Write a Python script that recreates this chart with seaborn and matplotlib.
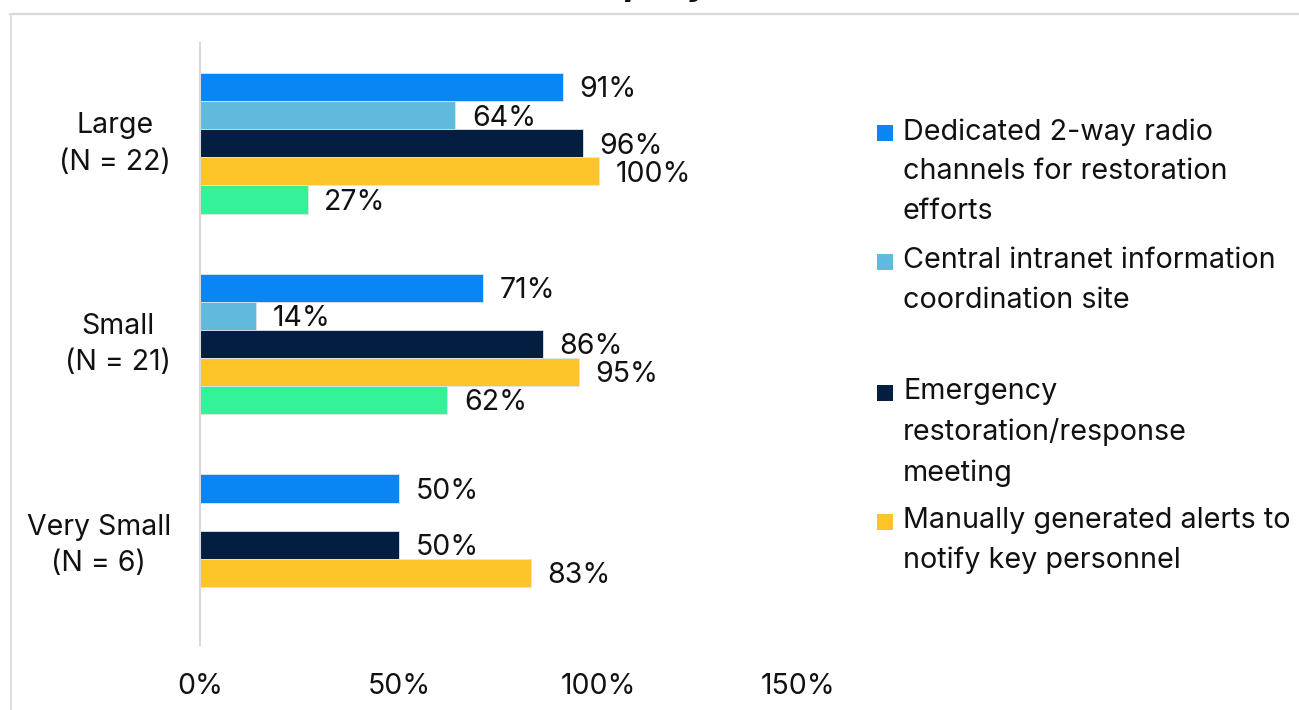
import numpy as np
import pandas as pd
import matplotlib
matplotlib.use("Agg")
import matplotlib.pyplot as plt
import matplotlib.transforms as mtrans
from matplotlib.patches import Rectangle
from matplotlib.lines import Line2D
import seaborn as sns

# ---- data -------------------------------------------------------------
groups = ["Large\n(N = 22)", "Small\n(N = 21)", "Very Small\n(N = 6)"]
methods = [
    "Dedicated 2-way radio\nchannels for restoration\nefforts",
    "Central intranet information\ncoordination site",
    "Emergency\nrestoration/response\nmeeting",
    "Manually generated alerts to\nnotify key personnel",
    "Other",
]
radio = [91, 71, 50]
intranet = [64, 14, np.nan]
meeting = [96, 86, 50]
alerts = [100, 95, 83]
other = [27, 62, np.nan]
x_ticks = [0, 50, 100, 150]
title_text = "Company Size"

colors = ["#0A86F4", "#5FBADC", "#041E42", "#FEC52B", "#33F298"]

series = [radio, intranet, meeting, alerts, other]
df = pd.DataFrame(
    [(g, m, v) for m, vals in zip(methods, series) for g, v in zip(groups, vals)],
    columns=["group", "method", "pct"],
)

# ---- figure -----------------------------------------------------------
sns.set_theme(style="white")
plt.rcParams["font.family"] = ["Inter", "DejaVu Sans"]

FS = 20.5
W, H = 1299, 710
fig = plt.figure(figsize=(W / 100, H / 100), dpi=100)
ax = fig.add_axes([200 / W, 65 / H, 598 / W, 602 / H])

sns.barplot(
    data=df, y="group", x="pct", hue="method",
    order=groups, hue_order=methods, palette=colors, saturation=1,
    orient="h", width=0.7, dodge=True, errorbar=None,
    edgecolor="#dbe6f2", linewidth=0.6, legend=False, ax=ax,
)

ax.set_xlim(0, 150)
ax.set_ylim(2.5, -0.5)
ax.set_xticks(x_ticks)
ax.set_xticklabels([f"{t}%" for t in x_ticks], fontsize=FS, color="#111111")
ax.set_xlabel("")
ax.set_ylabel("")
ax.tick_params(axis="x", length=0, pad=20)
ax.tick_params(axis="y", length=0, pad=21, labelsize=FS, labelcolor="#111111")
lift = mtrans.ScaledTranslation(0, 7 / 100, fig.dpi_scale_trans)
for lab in ax.get_yticklabels():
    lab.set_multialignment("center")
    lab.set_linespacing(1.45)
    lab.set_transform(lab.get_transform() + lift)

for s in ["top", "right", "bottom"]:
    ax.spines[s].set_visible(False)
ax.spines["left"].set_color("#d9d9d9")
ax.spines["left"].set_linewidth(1.5)
ax.grid(False)

# value labels to the right of each bar
for cont in ax.containers:
    for bar in cont:
        w = bar.get_width()
        if w is None or np.isnan(w) or w == 0:
            continue
        ax.annotate(f"{w:.0f}%", (w, bar.get_y() + bar.get_height() / 2),
                    xytext=(12, -2), textcoords="offset points",
                    ha="left", va="center", fontsize=FS, color="#111111")

# ---- legend (four entries, fixed slots) ------------------------------
slot_tops = [133, 262, 393, 522]
for txt, col, yc in zip(methods[:4], colors[:4], slot_tops):
    fig.patches.append(Rectangle((877 / W, 1 - (yc + 8) / H), 16 / W, 16 / H,
                                 transform=fig.transFigure, facecolor=col,
                                 edgecolor="none"))
    fig.text(903 / W, 1 - (yc - 15) / H, txt, ha="left", va="top",
             fontsize=20.7, color="#111111", linespacing=1.6)

# ---- frame and title strip ------------------------------------------
fig.lines.append(Line2D([10 / W, 1.0], [1 - 13.5 / H, 1 - 13.5 / H],
                        transform=fig.transFigure, color="#d9d9d9", lw=1.6))
fig.lines.append(Line2D([10.5 / W, 10.5 / W], [0, 1 - 13.5 / H],
                        transform=fig.transFigure, color="#d9d9d9", lw=1.2))
fig.text(670 / W, 1 + 4 / H, title_text, ha="center", va="baseline",
         fontsize=22, fontweight="bold", fontstyle="italic",
         family="DejaVu Sans", color="#111111")

fig.savefig("out.png", dpi=100)
